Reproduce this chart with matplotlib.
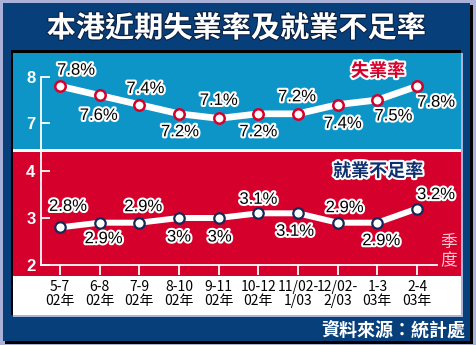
import matplotlib
matplotlib.use("Agg")
import matplotlib.pyplot as plt
from matplotlib.patches import Rectangle
import matplotlib.patheffects as pe

# ---- data ----
periods = ["5-7\n02年", "6-8\n02年", "7-9\n02年", "8-10\n02年", "9-11\n02年",
           "10-12\n02年", "11/02-\n1/03", "12/02-\n2/03", "1-3\n03年", "2-4\n03年"]
unemployment = [7.8, 7.6, 7.4, 7.2, 7.1, 7.2, 7.2, 7.4, 7.5, 7.8]
underemployment = [2.8, 2.9, 2.9, 3.0, 3.0, 3.1, 3.1, 2.9, 2.9, 3.2]
unemp_labels = ["7.8%", "7.6%", "7.4%", "7.2%", "7.1%", "7.2%", "7.2%", "7.4%", "7.5%", "7.8%"]
under_labels = ["2.8%", "2.9%", "2.9%", "3%", "3%", "3.1%", "3.1%", "2.9%", "2.9%", "3.2%"]
title = "本港近期失業率及就業不足率"
source = "資料來源：統計處"

# ---- style ----
W, H = 477, 345
NAVY = "#073f7b"
LAV = "#aab2da"
BLUE = "#0d95c7"
RED = "#d5002b"
DARKNAVY = "#16285a"
CJK = ["Noto Sans CJK TC", "DejaVu Sans"]

fig = plt.figure(figsize=(W / 100, H / 100), dpi=100)
fig.patch.set_facecolor(LAV)


def rect(x0, y0, x1, y1, color, z=-5):
    fig.add_artist(Rectangle((x0 / W, 1 - y1 / H), (x1 - x0) / W, (y1 - y0) / H,
                             transform=fig.transFigure, facecolor=color,
                             edgecolor="none", zorder=z))


def box(x0, y0, x1, y1):
    return [x0 / W, 1 - y1 / H, (x1 - x0) / W, (y1 - y0) / H]


rect(5, 5, 473, 344, "black", -10)
rect(3, 3, 470, 341, NAVY, -9)
rect(11, 50, 461, 315, "black", -8)
rect(13, 53, 463, 317, LAV, -7)
rect(13, 53, 461, 149, BLUE, -6)
rect(13, 149, 461, 152, "white", -6)
rect(13, 152, 461, 276, RED, -6)
rect(13, 276, 461, 315, "white", -6)

x = list(range(len(periods)))
xlim = (-0.479, 9.503)

stroke_w = [pe.withStroke(linewidth=3, foreground="white")]

# top axes (unemployment)
ax1 = fig.add_axes(box(41, 53, 437, 150))
ax1.set_facecolor("none")
ax1.plot(x, unemployment, color="white", lw=4.8, solid_capstyle="round", zorder=2)
ax1.plot(x, unemployment, ls="none", marker="o", ms=7.5, mfc="white", mec=RED, mew=1.8, zorder=3)
ax1.set_xlim(*xlim)
ax1.set_ylim(6.413, 8.522)
for s in ["top", "right", "bottom"]:
    ax1.spines[s].set_visible(False)
ax1.spines["left"].set_color("white")
ax1.spines["left"].set_linewidth(1.3)
ax1.spines["left"].set_bounds(6.413, 8)
ax1.set_yticks([7, 8])
ax1.set_yticklabels(["7", "8"])
ax1.set_xticks([])
ax1.tick_params(axis="y", direction="in", length=6.5, width=1.3, color="white",
                labelcolor="white", pad=4, labelsize=12)
for t in ax1.get_yticklabels():
    t.set_fontweight("bold")
    t.set_family("Liberation Sans")

top_off = [(16, 16), (-1, -20), (6, 16), (1, -18), (0, 18), (0, -18), (-1, 17), (5, -19), (16, -16), (19, -16)]
for xi, yi, lab, (dx, dy) in zip(x, unemployment, unemp_labels, top_off):
    ax1.annotate(lab, (xi, yi), xytext=(dx, dy), textcoords="offset pixels",
                 ha="center", va="center", fontsize=12, family="Liberation Sans",
                 color="black", path_effects=stroke_w, zorder=4)

# bottom axes (underemployment)
ax2 = fig.add_axes(box(41, 150, 437, 265))
ax2.set_facecolor("none")
ax2.plot(x, underemployment, color="white", lw=4.3, solid_capstyle="round", zorder=2)
ax2.plot(x, underemployment, ls="none", marker="o", ms=7.5, mfc="white", mec=DARKNAVY, mew=1.6, zorder=3)
ax2.set_xlim(*xlim)
ax2.set_ylim(2, 4.447)
for s in ["top", "right"]:
    ax2.spines[s].set_visible(False)
for s in ["left", "bottom"]:
    ax2.spines[s].set_color("white")
    ax2.spines[s].set_linewidth(1.3)
ax2.set_yticks([2, 3, 4])
ax2.set_yticklabels(["2", "3", "4"])
ax2.tick_params(axis="y", direction="in", length=6.5, width=1.3, color="white",
                labelcolor="white", pad=4, labelsize=12)
for t in ax2.get_yticklabels():
    t.set_fontweight("bold")
    t.set_family("Liberation Sans")
ax2.set_xticks(x)
ax2.set_xticklabels(periods)
ax2.tick_params(axis="x", direction="out", length=7.2, width=1.3, color="white",
                labelcolor="black", pad=3.5, labelsize=10)
for t in ax2.get_xticklabels():
    t.set_family(["Liberation Sans Narrow", "Noto Sans CJK TC"])
    t.set_linespacing(1.05)

bot_off = [(8, 21), (4, -16), (4, 16), (0, -19), (1, -19), (0, 14), (-3, -18), (7, 15), (4, -18), (19, 14)]
for xi, yi, lab, (dx, dy) in zip(x, underemployment, under_labels, bot_off):
    ax2.annotate(lab, (xi, yi), xytext=(dx, dy), textcoords="offset pixels",
                 ha="center", va="center", fontsize=12, family="Liberation Sans",
                 color="black", path_effects=stroke_w, zorder=4)

# texts
fig.text(236 / W, 1 - 28 / H, title, ha="center", va="center", fontsize=21,
         fontweight="bold", family=CJK, color="white",
         path_effects=[pe.withStroke(linewidth=1.5, foreground="#0a1f40")])
fig.text(378 / W, 1 - 71 / H, "失業率", ha="center", va="center", fontsize=13,
         fontweight="bold", family=CJK, color=RED, path_effects=stroke_w)
fig.text(378 / W, 1 - 171 / H, "就業不足率", ha="center", va="center", fontsize=13,
         fontweight="bold", family=CJK, color="#0d2f6e", path_effects=stroke_w)
fig.text(449 / W, 1 - 251.5 / H, "季\n度", ha="center", va="center", fontsize=12,
         family=CJK, color="#f8c8d0", linespacing=1.05)
fig.text(465 / W, 1 - 330 / H, source, ha="right", va="center", fontsize=13,
         fontweight="bold", family=CJK, color="white")

fig.savefig("out.png", dpi=100, facecolor=fig.get_facecolor())
